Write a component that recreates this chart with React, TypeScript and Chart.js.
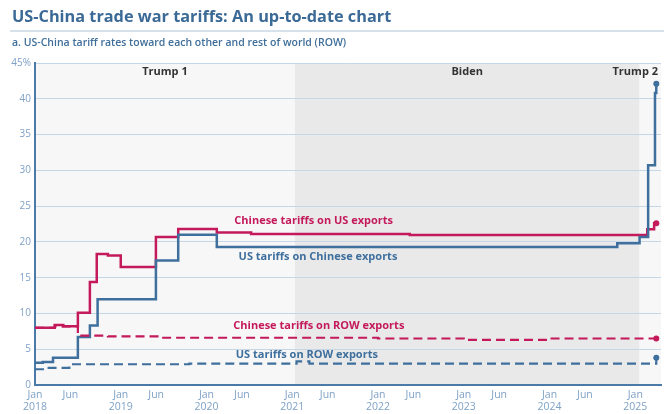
import React, { useEffect, useRef } from "react";
import { Chart, registerables } from "chart.js";

Chart.register(...registerables);

// ---- Data (fractional year, percent) ----
const usOnChinaX = [2018.0, 2018.09, 2018.21, 2018.5, 2018.64, 2018.73, 2019.41, 2019.67, 2020.12, 2024.79, 2025.05, 2025.15, 2025.23, 2025.245];
const usOnChinaY = [3.1, 3.2, 3.8, 6.7, 8.3, 12.0, 17.4, 21.0, 19.3, 19.8, 20.7, 30.7, 40.8, 42.1];

const chinaOnUsX = [2018.0, 2018.23, 2018.33, 2018.5, 2018.64, 2018.72, 2018.85, 2019.0, 2019.41, 2019.67, 2020.12, 2020.52, 2022.37, 2025.14, 2025.22, 2025.245];
const chinaOnUsY = [8.0, 8.4, 8.2, 10.1, 14.4, 18.3, 18.1, 16.5, 20.7, 21.8, 21.3, 21.1, 20.95, 21.75, 22.6, 22.6];

const chinaOnRowX = [2018.0, 2018.23, 2018.5, 2018.85, 2019.48, 2022.0, 2023.0, 2024.0, 2025.245];
const chinaOnRowY = [8.0, 8.2, 6.9, 6.8, 6.6, 6.5, 6.3, 6.5, 6.5];

const usOnRowX = [2018.0, 2018.14, 2018.4, 2019.8, 2021.05, 2021.2, 2025.235, 2025.245];
const usOnRowY = [2.2, 2.4, 2.9, 3.0, 3.3, 3.0, 3.0, 3.8];

const xTickValues = [2018.0, 2018.413, 2019.0, 2019.413, 2020.0, 2020.413, 2021.0, 2021.413, 2022.0, 2022.413, 2023.0, 2023.413, 2024.0, 2024.413, 2025.0];
const xTickLabels = [["Jan", "2018"], "Jun", ["Jan", "2019"], "Jun", ["Jan", "2020"], "Jun", ["Jan", "2021"], "Jun", ["Jan", "2022"], "Jun", ["Jan", "2023"], "Jun", ["Jan", "2024"], "Jun", ["Jan", "2025"]];

const eraNames = ["Trump 1", "Biden", "Trump 2"];
const eraStarts = [2018.0, 2021.03, 2025.05];
const eraEnds = [2021.03, 2025.05, 2025.3];

const seriesLabels = ["Chinese tariffs on US exports", "US tariffs on Chinese exports", "Chinese tariffs on ROW exports", "US tariffs on ROW exports"];
const seriesLabelX = [2021.25, 2021.3, 2021.31, 2021.17];
const seriesLabelY = [22.9, 17.9, 8.2, 4.2];

const TITLE = "US-China trade war tariffs: An up-to-date chart";
const SUBTITLE = "a. US-China tariff rates toward each other and rest of world (ROW)";

const RED = "#c4195b";
const BLUE = "#3e6f9d";
const FONT = "'Open Sans', sans-serif";

const pts = (xs: number[], ys: number[]) => xs.map((x, i) => ({ x, y: ys[i] }));

export default function App() {
  const ref = useRef<HTMLCanvasElement | null>(null);

  useEffect(() => {
    if (!ref.current) return;

    const bgPlugin = {
      id: "bg",
      beforeDraw(chart: any) {
        const { ctx, chartArea } = chart;
        const xs = chart.scales.x;
        ctx.save();
        // title
        ctx.fillStyle = "#3b6a96";
        ctx.font = `bold 16.3px ${FONT}`;
        ctx.textBaseline = "middle";
        ctx.textAlign = "left";
        ctx.fillText(TITLE, 12, 17);
        ctx.strokeStyle = "#c8d7e6";
        ctx.lineWidth = 1.5;
        ctx.beginPath();
        ctx.moveTo(10, 31);
        ctx.lineTo(664, 31);
        ctx.stroke();
        ctx.font = `600 10.5px ${FONT}`;
        ctx.fillStyle = "#3f6e99";
        ctx.fillText(SUBTITLE, 12, 43);
        // era bands
        const fills = ["#f7f7f7", "#e9e9e9", "#f7f7f7"];
        eraNames.forEach((_, i) => {
          const a = xs.getPixelForValue(eraStarts[i]);
          const b = Math.min(xs.getPixelForValue(eraEnds[i]), chartArea.right);
          ctx.fillStyle = fills[i];
          ctx.fillRect(a, chartArea.top, b - a, chartArea.bottom - chartArea.top);
        });
        ctx.restore();
      },
      afterDatasetsDraw(chart: any) {
        const { ctx, chartArea } = chart;
        const xs = chart.scales.x;
        const ys = chart.scales.y;
        ctx.save();
        ctx.textBaseline = "middle";
        ctx.font = `bold 11px ${FONT}`;
        ctx.fillStyle = "#333333";
        eraNames.forEach((name, i) => {
          const a = xs.getPixelForValue(eraStarts[i]);
          const b = Math.min(xs.getPixelForValue(eraEnds[i]), chartArea.right);
          if (i === eraNames.length - 1) {
            ctx.textAlign = "right";
            ctx.fillText(name, chartArea.right - 3, chartArea.top + 9);
          } else {
            ctx.textAlign = "center";
            ctx.fillText(name, (a + b) / 2, chartArea.top + 9);
          }
        });
        const colors = [RED, BLUE, RED, BLUE];
        ctx.textAlign = "center";
        seriesLabels.forEach((t, i) => {
          ctx.fillStyle = colors[i];
          ctx.fillText(t, xs.getPixelForValue(seriesLabelX[i]), ys.getPixelForValue(seriesLabelY[i]));
        });
        ctx.restore();
      },
    };

    const lastDot = (ctx: any) => (ctx.dataIndex === ctx.dataset.data.length - 1 ? 3 : 0);

    const mk = (label: string, data: any[], color: string, dashed: boolean) => ({
      label,
      data,
      borderColor: color,
      backgroundColor: color,
      borderWidth: dashed ? 2.2 : 2.5,
      borderDash: dashed ? [9, 5] : [],
      stepped: "before" as const,
      pointRadius: lastDot,
      pointHoverRadius: 0,
      pointBorderWidth: 0,
      fill: false,
    });

    const chart = new Chart(ref.current, {
      type: "line",
      data: {
        datasets: [
          mk("chinaOnRow", pts(chinaOnRowX, chinaOnRowY), RED, true),
          mk("usOnRow", pts(usOnRowX, usOnRowY), BLUE, true),
          mk("usOnChina", pts(usOnChinaX, usOnChinaY), BLUE, false),
          mk("chinaOnUs", pts(chinaOnUsX, chinaOnUsY), RED, false),
        ],
      },
      options: {
        animation: false,
        responsive: false,
        events: [],
        layout: { padding: { top: 63, right: 1, left: 0, bottom: 0 } },
        plugins: { legend: { display: false }, tooltip: { enabled: false }, title: { display: false } },
        scales: {
          x: {
            type: "linear",
            min: 2018.0,
            max: 2025.3,
            afterBuildTicks: (scale: any) => {
              scale.ticks = xTickValues.map((v) => ({ value: v }));
            },
            afterFit: (scale: any) => {
              scale.height = 29;
            },
            ticks: {
              autoSkip: false,
              maxRotation: 0,
              padding: 5,
              color: "#7fa2c6",
              font: { family: FONT, size: 10.5, lineHeight: 1.05 },
              callback: (v: any) => {
                const i = xTickValues.findIndex((t) => Math.abs(t - v) < 1e-6);
                return i >= 0 ? xTickLabels[i] : "";
              },
            },
            grid: { display: false, drawTicks: false },
            border: { display: true, color: "#4a7aa7", width: 2 },
          },
          y: {
            min: 0,
            max: 45,
            afterFit: (scale: any) => {
              scale.width = 35;
            },
            ticks: {
              stepSize: 5,
              padding: 4,
              color: "#7fa2c6",
              font: { family: FONT, size: 10 },
              callback: (v: any) => (v === 45 ? "45%" : String(v)),
            },
            grid: { color: "#c5d6e6", lineWidth: 1, drawTicks: false },
            border: { display: true, color: "#4a7aa7", width: 2 },
          },
        },
      },
      plugins: [bgPlugin],
    });
    return () => chart.destroy();
  }, []);

  return (
    <div style={{ position: "fixed", left: 0, top: 0, width: 664, height: 414, background: "#fff" }}>
      <canvas ref={ref} width={664} height={414} style={{ width: 664, height: 414, display: "block" }} />
    </div>
  );
}
